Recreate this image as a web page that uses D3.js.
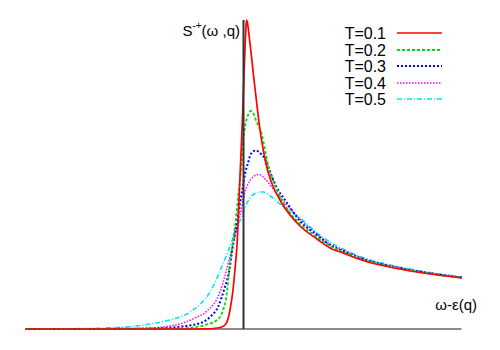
<!DOCTYPE html>
<meta charset="utf-8">
<style>
  body { margin: 0; background: #fff; }
  text { font-family: "Liberation Sans", Arial, sans-serif; }
</style>
<body>
<script src="https://d3js.org/d3.v7.min.js"></script>
<script>
  // omega - eps(q) positions and S^{-+} values
  const xT1 = [-2.18, -0.935, -0.535, -0.385, -0.305, -0.235, -0.185, -0.155, -0.135, -0.105, -0.085, -0.065, -0.045, -0.03, -0.015, -0.005, 0.005, 0.015, 0.023, 0.03, 0.04, 0.055, 0.075, 0.102, 0.132, 0.165, 0.198, 0.235, 0.282, 0.382, 0.565, 0.735, 0.865, 0.995, 1.195, 1.535, 1.865, 2.185];
  const yT1 = [0, 0, 0, 0.002, 0.005, 0.015, 0.04, 0.10, 0.19, 0.39, 0.60, 0.84, 1.29, 1.64, 1.99, 2.26, 2.54, 2.81, 2.99, 3.09, 3.06, 2.94, 2.77, 2.52, 2.26, 1.99, 1.79, 1.61, 1.46, 1.26, 1.03, 0.90, 0.81, 0.76, 0.685, 0.605, 0.55, 0.51];

  const xT2 = [-2.18, -0.935, -0.735, -0.535, -0.385, -0.265, -0.215, -0.165, -0.135, -0.115, -0.09, -0.068, -0.052, -0.035, -0.018, -0.002, 0.015, 0.035, 0.055, 0.072, 0.09, 0.105, 0.125, 0.15, 0.182, 0.215, 0.248, 0.295, 0.348, 0.395, 0.465, 0.565, 0.735, 0.865, 0.995, 1.195, 1.535, 1.865, 2.185];
  const yT2 = [0, 0, 0.004, 0.012, 0.04, 0.09, 0.16, 0.37, 0.67, 0.81, 0.99, 1.17, 1.34, 1.49, 1.69, 1.89, 2.02, 2.11, 2.16, 2.18, 2.17, 2.14, 2.09, 2.03, 1.95, 1.79, 1.63, 1.49, 1.36, 1.27, 1.16, 1.05, 0.92, 0.83, 0.77, 0.695, 0.61, 0.555, 0.513];

  const xT3 = [-2.18, -1.135, -0.765, -0.585, -0.415, -0.335, -0.255, -0.195, -0.145, -0.105, -0.075, -0.035, -0.005, 0.015, 0.045, 0.065, 0.095, 0.125, 0.155, 0.185, 0.215, 0.245, 0.282, 0.335, 0.415, 0.565, 0.735, 0.865, 0.995, 1.195, 1.535, 1.865, 2.185];
  const yT3 = [0, 0.002, 0.01, 0.03, 0.065, 0.12, 0.22, 0.39, 0.57, 0.84, 1.01, 1.26, 1.43, 1.55, 1.66, 1.73, 1.775, 1.785, 1.77, 1.74, 1.70, 1.63, 1.53, 1.41, 1.29, 1.08, 0.94, 0.84, 0.78, 0.70, 0.615, 0.557, 0.515];

  const xT4 = [-2.18, -1.435, -0.935, -0.735, -0.605, -0.485, -0.365, -0.235, -0.175, -0.115, -0.068, -0.035, -0.005, 0.015, 0.045, 0.085, 0.115, 0.155, 0.185, 0.225, 0.282, 0.345, 0.415, 0.565, 0.735, 0.865, 0.995, 1.195, 1.535, 1.865, 2.185];
  const yT4 = [0, 0.002, 0.01, 0.03, 0.06, 0.11, 0.18, 0.37, 0.57, 0.81, 1.01, 1.14, 1.29, 1.37, 1.45, 1.51, 1.535, 1.545, 1.53, 1.49, 1.42, 1.34, 1.26, 1.10, 0.95, 0.85, 0.79, 0.705, 0.62, 0.56, 0.517];

  const xT5 = [-2.18, -1.635, -1.265, -1.035, -0.805, -0.535, -0.335, -0.165, -0.065, -0.015, 0.025, 0.065, 0.115, 0.165, 0.198, 0.245, 0.315, 0.445, 0.565, 0.735, 0.865, 0.995, 1.195, 1.535, 1.865, 2.185];
  const yT5 = [0, 0.004, 0.015, 0.035, 0.075, 0.17, 0.37, 0.75, 1.01, 1.13, 1.24, 1.31, 1.355, 1.37, 1.37, 1.35, 1.29, 1.19, 1.11, 0.96, 0.87, 0.80, 0.715, 0.625, 0.565, 0.52];

  const labels = ["T=0.1", "T=0.2", "T=0.3", "T=0.4", "T=0.5"];
  const colors = ["#ff0000", "#00dd00", "#0000ff", "#ff00ff", "#00e5ee"];
  const dashes = [null, "3,2", "2,2", "1.5,1.5", "5,2,1,2"];
  const widths = [1.7, 1.8, 2, 1.5, 1.5];

  const xs = [xT1, xT2, xT3, xT4, xT5];
  const ys = [yT1, yT2, yT3, yT4, yT5];
  const series = labels.map((name, i) => ({
    name: name,
    color: colors[i],
    dash: dashes[i],
    width: widths[i],
    points: xs[i].map((x, j) => [x, ys[i][j]])
  }));

  const width = 500, height = 350;
  const svg = d3.select("body").append("svg")
    .attr("width", width)
    .attr("height", height);

  const x = d3.scaleLinear().domain([-2.2, 2.2]).range([23.5, 463.5]);
  const y = d3.scaleLinear().domain([0, 3.1]).range([329, 19]);

  // baseline (x axis)
  svg.append("line")
    .attr("x1", x(-2.18)).attr("x2", x(2.18))
    .attr("y1", y(0)).attr("y2", y(0))
    .attr("stroke", "#8c8c8c").attr("stroke-width", 2);

  const line = d3.line()
    .x(d => x(d[0]))
    .y(d => y(d[1]))
    .curve(d3.curveMonotoneX);

  // draw T=0.5 first so red ends on top
  svg.append("g").selectAll("path")
    .data(series.slice().reverse())
    .join("path")
    .attr("d", d => line(d.points))
    .attr("fill", "none")
    .attr("stroke", d => d.color)
    .attr("stroke-width", d => d.width)
    .attr("stroke-dasharray", d => d.dash);

  // vertical axis at omega = eps(q)
  svg.append("line")
    .attr("x1", x(0)).attr("x2", x(0))
    .attr("y1", 20).attr("y2", y(0))
    .attr("stroke", "#333").attr("stroke-width", 2);

  // axis labels
  const yl = svg.append("text")
    .attr("x", 240).attr("y", 36)
    .attr("text-anchor", "end")
    .attr("font-size", 15);
  yl.append("tspan").text("S");
  yl.append("tspan").attr("dy", -7).attr("font-size", 10).text("-+");
  yl.append("tspan").attr("dy", 7).text("(ω ,q)");

  svg.append("text")
    .attr("x", 477).attr("y", 310)
    .attr("text-anchor", "end")
    .attr("font-size", 15)
    .text("ω-ε(q)");

  // legend
  const leg = svg.append("g").selectAll("g")
    .data(series)
    .join("g")
    .attr("transform", (d, i) => `translate(0,${Math.round(33 + i * 16.5)})`);

  leg.append("text")
    .attr("x", 386).attr("y", 5.5)
    .attr("text-anchor", "end")
    .attr("font-size", 16)
    .text(d => d.name);

  leg.append("line")
    .attr("x1", 397).attr("x2", 442)
    .attr("y1", 0).attr("y2", 0)
    .attr("stroke", d => d.color)
    .attr("stroke-width", d => d.width)
    .attr("stroke-dasharray", d => d.dash);
</script>
</body>
